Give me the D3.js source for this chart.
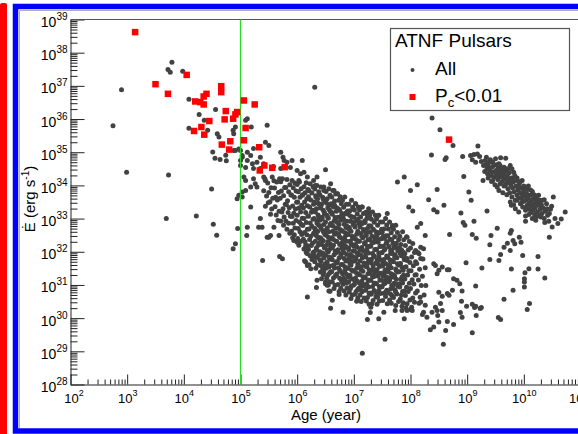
<!DOCTYPE html>
<html lang="en">
<head>
<meta charset="UTF-8">
<title>ATNF Pulsars - spin-down power vs age</title>
<style>
  body { margin: 0; background: #fff; }
  svg { display: block; font-family: "Liberation Sans", Arial, Helvetica, sans-serif; }
</style>
</head>
<body>
<svg id="chart" width="578" height="434"></svg>
<script src="https://cdnjs.cloudflare.com/ajax/libs/d3/7.8.5/d3.min.js"></script>
<script>
// all values are log10(age / year) and log10(Edot / erg s^-1)
const xDecades = [2, 3, 4, 5, 6, 7, 8, 9, 10, 11];
const yDecades = [28, 29, 30, 31, 32, 33, 34, 35, 36, 37, 38, 39];
const ageCut = 5; // green line at 1e5 yr

// young / sparse pulsars left of and above the main cloud
const youngScatter = [
  [2.90,36.88],[2.75,35.80],[2.99,34.40],[3.79,37.71],[3.72,37.49],[3.76,37.41],[3.98,37.44],
  [4.09,36.60],[4.27,36.14],[4.09,35.72],[3.73,34.31],[3.69,33.00],[4.22,33.08],[4.49,33.89],
  [4.52,32.83],[4.58,32.50],[4.87,32.09],[4.51,35.01],[4.55,34.82],[4.64,34.78],[4.75,34.74],
  [4.74,34.91],[4.88,35.05],[4.56,36.29],[4.36,35.96],[4.42,35.66],[4.59,35.56],[4.62,35.46],
  [4.87,35.66],[4.91,35.76],[5.12,36.01],[5.09,35.96],[5.19,35.76],[5.47,35.81],[5.44,35.30],
  [5.50,35.20],[5.00,35.05],[5.12,35.00],[5.18,34.90],[5.23,35.11],[5.03,34.85],[5.12,34.75],
  [5.21,34.65],[5.29,34.70],[5.35,34.85],[5.71,35.00],[5.75,34.85],[5.91,34.75],[5.00,34.60],
  [5.09,34.54],[5.23,34.51],[5.35,34.51],[5.58,34.57],[5.71,34.51],[5.88,34.54],[5.77,34.75],
  [5.82,34.70],[6.09,34.75],[6.50,34.47],[6.00,34.45],[6.06,34.35],[6.12,34.40],[5.06,34.25],
  [5.09,34.15],[5.23,34.20],[5.26,34.05],[5.18,33.95],[5.29,33.95],[5.09,33.85],[5.03,33.80],
  [4.97,33.70],[5.03,33.65],[5.41,34.25],[5.44,34.15],[6.03,34.15],[6.18,34.25],[6.29,34.15],
  [6.35,34.25],[6.32,34.00],[6.47,33.95],[6.59,34.05],[6.65,33.85],[6.71,33.75],[4.94,33.60],
  [4.95,32.70],[4.91,32.24],[5.12,32.74],[5.11,32.49],[5.18,33.35],[5.35,33.00],[5.32,32.74],
  [5.38,32.74],[5.59,32.74],[5.53,32.49],[5.47,32.44],[5.39,31.74],[5.69,31.86],[5.74,31.79],
  [5.94,32.34],[6.00,32.29],[6.15,31.69],[6.18,31.59],[4.88,35.56],[4.91,35.05],[4.97,35.10],
  [6.31,36.96],[5.50,32.44],[5.68,32.49],[6.15,32.19],[6.13,32.09],[6.18,31.94],[6.13,31.73],
  [6.21,31.61],[6.24,31.49],[6.29,31.89],[6.32,31.84],[6.35,31.14],[6.34,30.92],[6.50,31.04],
  [6.18,30.64],[6.58,30.81],[6.47,31.39],[6.41,31.59],[6.56,31.54],[7.03,33.45],[7.15,33.35],
  [7.24,33.10],[7.26,33.20],[7.41,33.05],[7.59,33.15],[7.68,32.74],[7.77,34.10],[7.89,34.25],
  [7.97,33.35],[5.00,34.75],[5.03,34.90],[5.41,34.65]
];

// dense cloud of normal pulsars, read strip by strip (ages with their Edot values)
const cloudStrips = [
  { age: [5.43,5.48,5.41,5.46,5.49,5.44],
    edot: [34.20,34.07,33.84,33.68,33.48,33.37] },
  { age: [5.56,5.59,5.54,5.50,5.57,5.52,5.55,5.53],
    edot: [34.25,34.14,33.93,33.79,33.61,33.51,33.29,33.13] },
  { age: [5.69,5.64,5.60,5.67,5.62,5.65,5.61,5.68,5.63,5.66],
    edot: [34.20,34.10,33.92,33.79,33.64,33.56,33.36,33.22,33.11,32.94] },
  { age: [5.74,5.71,5.78,5.72,5.76,5.70,5.79,5.75,5.73,5.77,5.71,5.76],
    edot: [34.20,34.11,33.94,33.83,33.69,33.61,33.43,33.30,33.20,33.05,32.93,32.80] },
  { age: [5.82,5.87,5.80,5.85,5.89,5.83,5.81,5.86,5.84,5.88,5.80,5.85,5.82,5.87],
    edot: [34.18,34.02,33.94,33.81,33.71,33.54,33.42,33.33,33.18,33.07,32.93,32.86,32.68,32.56] },
  { age: [5.91,5.96,5.93,5.98,5.90,5.95,5.99,5.92,5.97,5.94,5.91,5.98,5.93,5.96,5.90,5.95,5.92],
    edot: [34.15,34.07,33.93,33.83,33.71,33.64,33.49,33.38,33.29,33.16,33.06,32.94,32.86,32.72,32.62,32.51,32.42] },
  { age: [6.04,6.00,6.07,6.02,6.09,6.05,6.01,6.08,6.03,6.06,6.00,6.09,6.04,6.07,6.02,6.05,6.08,6.01,6.06,6.03],
    edot: [34.10,34.03,33.90,33.81,33.70,33.64,33.50,33.40,33.32,33.20,33.10,33.01,32.90,32.83,32.70,32.60,32.52,32.40,32.31,32.20] },
  { age: [6.16,6.12,6.19,6.14,6.10,6.17,6.13,6.18,6.11,6.15,6.19,6.12,6.16,6.10,6.18,6.13,6.17,6.11,6.14,6.19,6.12,6.16],
    edot: [34.08,33.96,33.88,33.78,33.72,33.59,33.50,33.39,33.32,33.18,33.08,33.00,32.88,32.79,32.68,32.58,32.51,32.38,32.30,32.18,32.08,31.98] },
  { age: [6.23,6.28,6.21,6.26,6.20,6.24,6.29,6.22,6.27,6.25,6.20,6.28,6.23,6.26,6.21,6.29,6.24,6.22,6.27,6.25,6.20,6.28,6.23,6.26],
    edot: [34.05,33.96,33.84,33.77,33.66,33.56,33.43,33.35,33.25,33.19,33.07,32.98,32.87,32.77,32.69,32.56,32.47,32.37,32.26,32.19,32.07,31.97,31.88,31.77] },
  { age: [6.35,6.31,6.38,6.33,6.36,6.30,6.39,6.34,6.32,6.37,6.30,6.35,6.38,6.31,6.36,6.33,6.39,6.32,6.37,6.34,6.30,6.38,6.35,6.31,6.36,6.33],
    edot: [34.00,33.89,33.81,33.69,33.60,33.50,33.43,33.30,33.20,33.11,33.00,32.92,32.80,32.70,32.61,32.50,32.40,32.32,32.20,32.11,32.00,31.90,31.83,31.70,31.60,31.50] },
  { age: [6.42,6.47,6.40,6.45,6.49,6.43,6.41,6.46,6.48,6.44,6.40,6.47,6.42,6.45,6.49,6.41,6.46,6.43,6.48,6.40,6.44,6.47,6.42,6.49,6.45,6.41,6.46,6.43],
    edot: [33.95,33.85,33.72,33.64,33.53,33.44,33.32,33.25,33.15,33.04,32.95,32.82,32.72,32.64,32.52,32.42,32.33,32.22,32.12,32.00,31.92,31.81,31.71,31.62,31.49,31.39,31.31,31.19] },
  { age: [6.56,6.51,6.58,6.53,6.50,6.57,6.54,6.59,6.52,6.55,6.50,6.58,6.53,6.56,6.51,6.59,6.54,6.52,6.57,6.55,6.50,6.58,6.53,6.56,6.51,6.59,6.54,6.52,6.57,6.55],
    edot: [33.90,33.82,33.70,33.60,33.51,33.40,33.33,33.20,33.10,33.01,32.90,32.80,32.72,32.60,32.50,32.39,32.30,32.20,32.07,32.00,31.90,31.79,31.70,31.58,31.50,31.40,31.29,31.20,31.10,31.00] },
  { age: [6.63,6.68,6.61,6.66,6.60,6.64,6.69,6.62,6.67,6.65,6.60,6.68,6.63,6.66,6.61,6.69,6.64,6.62,6.67,6.65,6.60,6.68,6.63,6.66,6.61,6.69,6.64,6.62,6.67,6.65],
    edot: [33.85,33.74,33.65,33.53,33.45,33.35,33.22,33.13,33.03,32.92,32.84,32.72,32.62,32.53,32.42,32.32,32.20,32.12,32.02,31.91,31.82,31.69,31.59,31.51,31.40,31.30,31.21,31.09,30.99,30.89] },
  { age: [6.71,6.76,6.73,6.78,6.70,6.75,6.79,6.72,6.77,6.74,6.71,6.78,6.73,6.76,6.70,6.75,6.79,6.72,6.77,6.74,6.71,6.78,6.73,6.76,6.70,6.75,6.79,6.72,6.77,6.74],
    edot: [33.75,33.66,33.55,33.45,33.33,33.25,33.15,33.04,32.95,32.82,32.72,32.64,32.53,32.43,32.31,32.22,32.12,32.01,31.93,31.81,31.71,31.62,31.51,31.41,31.33,31.20,31.10,31.01,30.90,30.80] },
  { age: [6.84,6.80,6.87,6.82,6.89,6.85,6.81,6.88,6.83,6.86,6.80,6.89,6.84,6.87,6.82,6.85,6.81,6.88,6.83,6.86,6.80,6.89,6.84,6.87,6.82,6.85,6.81,6.88,6.83,6.86],
    edot: [33.65,33.55,33.43,33.34,33.23,33.15,33.05,32.92,32.83,32.73,32.62,32.52,32.44,32.32,32.22,32.13,32.02,31.92,31.80,31.72,31.62,31.51,31.42,31.32,31.20,31.12,31.02,30.91,30.82,30.70] },
  { age: [6.96,6.91,6.98,6.93,6.90,6.97,6.94,6.99,6.92,6.95,6.90,6.98,6.93,6.96,6.91,6.99,6.94,6.92,6.97,6.95,6.90,6.98,6.93,6.96,6.91,6.99,6.94,6.92,6.97,6.95],
    edot: [33.55,33.43,33.34,33.24,33.13,33.05,32.92,32.82,32.73,32.62,32.52,32.40,32.32,32.22,32.11,32.02,31.92,31.80,31.71,31.60,31.50,31.42,31.29,31.19,31.10,30.99,30.89,30.79,30.70,30.59] },
  { age: [7.03,7.08,7.01,7.06,7.00,7.04,7.09,7.02,7.07,7.05,7.00,7.08,7.03,7.06,7.01,7.09,7.04,7.02,7.07,7.05,7.00,7.08,7.03,7.06,7.01,7.09,7.04,7.02,7.07,7.05],
    edot: [33.45,33.35,33.26,33.14,33.04,32.93,32.85,32.75,32.62,32.53,32.43,32.32,32.22,32.14,32.02,31.92,31.83,31.72,31.62,31.50,31.42,31.32,31.21,31.12,31.02,30.90,30.80,30.72,30.61,30.51] },
  { age: [7.14,7.10,7.17,7.12,7.19,7.15,7.11,7.18,7.13,7.16,7.10,7.19,7.14,7.17,7.12,7.15,7.11,7.18,7.13,7.16,7.10,7.19,7.14,7.17,7.12,7.15,7.11,7.18,7.13],
    edot: [33.35,33.26,33.15,33.05,32.93,32.85,32.75,32.64,32.55,32.42,32.32,32.24,32.13,32.03,31.91,31.82,31.72,31.61,31.53,31.41,31.31,31.22,31.11,31.01,30.93,30.80,30.70,30.61,30.50] },
  { age: [7.26,7.21,7.28,7.23,7.20,7.27,7.24,7.29,7.22,7.25,7.20,7.28,7.23,7.26,7.21,7.29,7.24,7.22,7.27,7.25,7.20,7.28,7.23,7.26,7.21,7.29,7.24,7.22,7.27],
    edot: [33.30,33.19,33.09,33.00,32.88,32.78,32.70,32.59,32.49,32.36,32.27,32.17,32.06,31.96,31.84,31.76,31.66,31.55,31.46,31.34,31.24,31.14,31.03,30.94,30.84,30.72,30.62,30.52,30.42] },
  { age: [7.33,7.38,7.31,7.36,7.30,7.34,7.39,7.32,7.37,7.35,7.30,7.38,7.33,7.36,7.31,7.39,7.34,7.32,7.37,7.35,7.30,7.38,7.33,7.36,7.31,7.39,7.34,7.32],
    edot: [33.20,33.10,32.98,32.89,32.78,32.68,32.60,32.47,32.37,32.28,32.17,32.07,31.95,31.87,31.77,31.66,31.57,31.45,31.35,31.25,31.14,31.05,30.95,30.83,30.73,30.64,30.53,30.43] },
  { age: [7.44,7.40,7.47,7.42,7.49,7.45,7.41,7.48,7.43,7.46,7.40,7.49,7.44,7.47,7.42,7.45,7.41,7.48,7.43,7.46,7.40,7.49,7.44,7.47,7.42,7.45,7.41],
    edot: [33.10,32.99,32.90,32.80,32.68,32.58,32.50,32.39,32.29,32.16,32.07,31.97,31.86,31.76,31.64,31.56,31.46,31.35,31.26,31.14,31.04,30.94,30.83,30.74,30.64,30.52,30.42] },
  { age: [7.56,7.51,7.58,7.53,7.50,7.57,7.54,7.59,7.52,7.55,7.50,7.58,7.53,7.56,7.51,7.59,7.54,7.52,7.57,7.55,7.50,7.58,7.53,7.56,7.51,7.59],
    edot: [33.00,32.90,32.81,32.69,32.59,32.48,32.40,32.30,32.17,32.08,31.98,31.87,31.77,31.65,31.57,31.47,31.36,31.27,31.15,31.05,30.95,30.84,30.75,30.65,30.53,30.43] },
  { age: [7.63,7.68,7.61,7.66,7.60,7.64,7.69,7.62,7.67,7.65,7.60,7.68,7.63,7.66,7.61,7.69,7.64,7.62,7.67,7.65,7.60,7.68,7.63,7.66],
    edot: [32.90,32.79,32.69,32.57,32.48,32.38,32.25,32.15,32.04,31.95,31.83,31.73,31.62,31.52,31.40,31.31,31.21,31.10,30.98,30.88,30.77,30.67,30.55,30.45] },
  { age: [7.74,7.70,7.77,7.72,7.79,7.75,7.71,7.78,7.73,7.76,7.70,7.79,7.74,7.77,7.72,7.75,7.71,7.78,7.73,7.76,7.70,7.79,7.74],
    edot: [32.80,32.68,32.58,32.45,32.36,32.25,32.13,32.03,31.91,31.82,31.70,31.60,31.48,31.39,31.27,31.17,31.05,30.96,30.84,30.73,30.62,30.50,30.38] },
  { age: [7.86,7.81,7.88,7.83,7.80,7.87,7.84,7.89,7.82,7.85,7.80,7.88,7.83,7.86,7.81,7.89,7.84,7.82,7.87,7.85],
    edot: [32.60,32.47,32.36,32.22,32.12,31.99,31.88,31.76,31.64,31.53,31.40,31.30,31.17,31.06,30.94,30.82,30.70,30.58,30.46,30.36] },
  { age: [7.93,7.98,7.91,7.96,7.90,7.94,7.99,7.92,7.97,7.95,7.90,7.98,7.93,7.96,7.91,7.99,7.94,7.92],
    edot: [32.45,32.31,32.19,32.05,31.94,31.80,31.68,31.55,31.43,31.30,31.18,31.05,30.93,30.80,30.68,30.55,30.43,30.31] },
  { age: [8.04,8.00,8.07,8.02,8.09,8.05,8.01,8.08,8.03,8.06,8.00,8.09,8.04,8.07,8.02],
    edot: [32.25,32.11,31.98,31.84,31.70,31.58,31.43,31.30,31.16,31.03,30.89,30.76,30.61,30.48,30.33] },
  { age: [8.13,8.18,8.11,8.16,8.10,8.14,8.19,8.12,8.17,8.15],
    edot: [31.98,31.80,31.65,31.47,31.31,31.15,30.98,30.82,30.63,30.45] },
  { age: [8.22,8.26,8.21,8.27,8.24],
    edot: [31.78,31.52,31.26,30.98,30.70] }
];

// extra pulsars in the crowded core of the cloud
const cloudCore = [
  { age: [6.33,6.37,6.31,6.38,6.35,6.32,6.36,6.39,6.34,6.30],
    edot: [33.65,33.46,33.25,33.05,32.86,32.66,32.45,32.26,32.05,31.84] },
  { age: [6.46,6.42,6.48,6.44,6.41,6.47,6.43,6.49,6.45,6.40,6.46],
    edot: [33.58,33.38,33.19,32.99,32.78,32.58,32.38,32.17,31.96,31.76,31.55] },
  { age: [6.52,6.57,6.54,6.59,6.51,6.55,6.58,6.53,6.56,6.50,6.57],
    edot: [33.46,33.26,33.05,32.85,32.65,32.44,32.24,32.04,31.84,31.64,31.35] },
  { age: [6.66,6.61,6.67,6.63,6.69,6.64,6.60,6.68,6.62,6.65,6.67],
    edot: [33.40,33.18,32.98,32.78,32.57,32.37,32.16,31.96,31.76,31.55,31.26] },
  { age: [6.73,6.78,6.71,6.76,6.74,6.79,6.72,6.77,6.70,6.75,6.78],
    edot: [33.29,33.08,32.88,32.67,32.47,32.27,32.06,31.86,31.66,31.45,31.15] },
  { age: [6.87,6.82,6.88,6.85,6.81,6.86,6.83,6.89,6.84,6.80,6.87],
    edot: [33.18,32.97,32.77,32.57,32.36,32.16,31.96,31.75,31.55,31.34,31.06] },
  { age: [6.94,6.99,6.92,6.97,6.95,6.91,6.98,6.93,6.96,6.90,6.95],
    edot: [33.08,32.88,32.67,32.47,32.26,32.06,31.86,31.65,31.45,31.24,30.96] },
  { age: [7.07,7.02,7.08,7.04,7.00,7.06,7.03,7.09,7.05,7.01,7.07],
    edot: [32.98,32.78,32.57,32.37,32.17,31.96,31.76,31.56,31.35,31.15,30.86] },
  { age: [7.12,7.17,7.14,7.19,7.11,7.15,7.18,7.13,7.16,7.10,7.14],
    edot: [32.88,32.67,32.47,32.27,32.06,31.86,31.66,31.45,31.25,31.05,30.80] },
  { age: [7.27,7.22,7.28,7.24,7.21,7.26,7.23,7.29,7.25,7.20,7.27],
    edot: [32.78,32.57,32.37,32.17,31.96,31.76,31.56,31.35,31.15,30.95,30.75] },
  { age: [7.34,7.39,7.32,7.37,7.35,7.31,7.38,7.33,7.36,7.30],
    edot: [32.68,32.47,32.27,32.06,31.86,31.66,31.45,31.25,31.05,30.76] },
  { age: [7.47,7.42,7.48,7.44,7.41,7.46,7.43,7.49,7.45,7.40],
    edot: [32.58,32.37,32.17,31.96,31.76,31.56,31.35,31.15,30.95,30.74] },
  { age: [7.52,7.57,7.54,7.59,7.51,7.55,7.58,7.53,7.56],
    edot: [32.46,32.26,32.05,31.85,31.65,31.44,31.24,31.04,30.78] },
  { age: [7.67,7.62,7.68,7.64,7.61,7.66,7.63,7.69,7.65],
    edot: [32.36,32.16,31.95,31.75,31.55,31.34,31.14,30.94,30.72] },
  { age: [7.73,7.78,7.72,7.77,7.75,7.71,7.76,7.74],
    edot: [32.25,32.04,31.84,31.64,31.43,31.23,31.03,30.78] },
  { age: [7.84,7.88,7.82,7.87,7.85,7.81,7.86],
    edot: [32.06,31.85,31.65,31.44,31.24,31.04,30.80] }
];

// old pulsars right of and below the cloud
const oldScatter = [
  [8.38,36.03],[8.52,35.68],[8.75,35.20],[8.37,34.92],[8.63,34.83],[8.61,34.78],[8.92,34.87],
  [8.12,34.02],[8.00,33.85],[8.47,33.88],[8.32,33.57],[8.59,33.40],[8.41,33.27],[8.47,33.20],
  [8.04,33.23],[8.94,34.27],[9.03,33.80],[9.07,33.55],[8.89,33.17],[8.93,32.88],[8.96,32.80],
  [9.12,32.92],[9.35,33.23],[9.53,32.71],[8.69,32.52],[9.09,32.52],[9.16,32.41],[9.42,32.49],
  [9.78,32.64],[9.76,32.56],[9.81,32.34],[9.92,32.44],[9.95,32.29],[9.84,32.24],[9.71,32.26],
  [9.65,32.14],[9.40,32.21],[10.45,32.44],[10.66,32.99],[10.73,33.20],[10.52,33.65],[10.49,33.37],
  [10.36,33.57],[10.21,33.05],[10.03,32.92],[8.18,32.85],[8.12,32.74],[7.94,32.44],[8.26,32.49],
  [9.76,32.04],[9.59,31.92],[9.56,31.74],[9.40,31.77],[9.98,31.89],[10.25,31.86],[9.78,31.48],
  [10.09,31.49],[10.25,31.48],[10.37,31.21],[10.02,31.37],[10.01,31.19],[10.01,31.09],[10.01,30.94],
  [9.81,30.84],[9.65,30.57],[10.10,30.44],[10.06,30.26],[9.55,30.02],[9.59,29.96],[9.26,31.51],
  [8.98,31.67],[9.15,30.97],[9.09,30.42],[9.15,30.36],[9.23,30.29],[9.16,30.08],[9.09,29.56],
  [8.58,29.21],[8.62,29.63],[8.35,29.65],[8.50,29.88],[8.65,29.90],[8.76,29.81],[8.90,30.51],
  [8.99,30.36],[8.91,30.82],[8.88,30.17],[8.91,30.03],[7.89,29.98],[8.41,29.73],[8.68,31.46],
  [8.76,31.19],[8.82,31.14],[8.87,31.04],[8.74,30.84],[8.65,30.74],[8.56,30.66],[8.53,30.44],
  [8.47,30.23],[8.38,30.18],[8.29,30.03],[8.23,30.18],[8.21,30.11],[7.85,30.23],[7.94,30.23],
  [8.03,30.23],[8.44,31.59],[8.50,31.44],[8.47,31.34],[8.56,31.54],[8.18,32.14],[8.23,32.09],
  [8.09,32.04],[8.15,31.94],[7.55,29.36],[7.15,28.94],[7.24,29.96],[7.44,29.98],[7.29,30.17],
  [7.30,30.33],[6.81,30.18],[6.59,30.30],[6.62,30.54],[6.74,30.71],[6.56,30.82],[6.50,31.09],
  [6.53,30.99],[7.53,30.18],[7.73,30.23],[8.00,30.26],[8.41,31.64],[8.65,31.46],[8.68,30.69],
  [8.50,30.78],[9.13,30.32],[9.25,30.32],[8.48,30.08],[8.56,30.23],[8.44,30.33],[8.26,30.39],
  [8.18,30.49],[7.65,32.04],[7.74,32.14],[7.82,31.94],[7.94,31.74]
];

// recycled pulsar group near 1e9-1e10 yr
const mspCluster = [
  [9.06,34.90],[9.12,34.93],[9.18,34.95],[9.22,34.87],[9.09,34.77],[9.15,34.70],[9.25,34.72],
  [9.32,34.75],[9.41,34.77],[9.50,34.80],[9.59,34.83],[9.68,34.82],[9.29,34.60],[9.38,34.55],
  [9.47,34.60],[9.56,34.65],[9.65,34.55],[9.76,34.60],[9.79,34.50],[9.19,35.19],
  [9.31,34.42],[9.35,34.50],[9.36,34.35],[9.40,34.44],[9.42,34.30],[9.44,34.55],[9.46,34.40],
  [9.48,34.25],[9.33,34.62],[9.38,34.68],[9.51,34.45],[9.52,34.32],[9.54,34.18],[9.55,34.52],
  [9.57,34.38],[9.58,34.05],[9.60,34.25],[9.61,34.45],[9.62,34.12],[9.64,34.33],[9.65,33.98],
  [9.66,34.20],[9.68,34.42],[9.69,34.06],[9.53,33.95],[9.58,34.60],[9.71,34.28],[9.72,33.90],
  [9.73,34.14],[9.74,34.38],[9.75,33.78],[9.77,34.02],[9.78,34.22],[9.79,33.65],[9.80,33.92],
  [9.81,34.10],[9.83,33.80],[9.84,34.30],[9.85,33.55],[9.86,33.98],[9.87,34.15],[9.88,33.70],
  [9.89,33.86],[9.76,33.50],[9.82,33.42],[9.91,33.62],[9.92,34.05],[9.93,33.78],[9.94,33.45],
  [9.95,33.92],[9.96,33.62],[9.97,34.15],[9.98,33.35],[9.99,33.80],[10.00,33.52],[10.01,33.68],
  [10.02,33.90],[10.03,33.25],[10.04,33.55],[10.05,33.75],[10.06,33.40],[10.07,33.62],[10.08,33.98],
  [10.09,33.30],[10.10,33.48],[10.11,33.70],[10.12,33.18],[10.13,33.55],[10.14,33.38],[10.15,33.82],
  [10.16,33.25],[10.17,33.60],[10.18,33.45],[10.19,33.12],[10.20,33.32],[10.22,33.50],[10.23,33.68],
  [10.24,33.20],[10.25,33.40],[10.27,33.08],[10.28,33.55],[10.29,33.28],[10.31,33.42],[10.32,33.15],
  [10.34,33.32],[10.36,33.00],[10.38,33.22],[10.40,33.45],[10.42,33.10],[10.44,32.92],[10.47,33.28],
  [10.55,33.00],[10.60,32.85],[10.50,32.75],[10.23,33.55],[10.29,33.45],
  [9.28,34.15],[9.34,34.85],[9.37,34.22],[9.43,34.12],[9.45,34.70],[9.49,34.02],[9.52,34.62],
  [9.56,33.85],[9.59,34.48],[9.63,33.78],[9.66,34.52],[9.70,33.72],[9.72,34.50],[9.75,34.08],
  [9.78,33.40],[9.82,34.40],[9.85,33.30],[9.88,34.22],[9.91,33.20],[9.94,34.12],[9.97,33.50],
  [10.00,33.98],[10.03,33.08],[10.06,33.88],[10.09,33.12],[10.12,33.86],[10.15,33.00],[10.18,33.72],
  [10.21,32.95],[10.26,33.70],[10.30,33.05],[10.33,33.55],[10.37,32.88],[10.41,33.30],[10.45,33.15],
  [9.62,34.32],[9.70,34.18],[9.80,34.20],[9.90,33.95],[9.98,33.70],[10.05,33.35],[10.12,33.45],
  [9.45,34.15],[9.55,34.30],[9.67,34.00],[9.88,33.55]
];

// pulsars with Pc < 0.01
const pcPulsars = [
  [3.14,38.62],[3.50,37.05],[3.72,36.76],[4.05,37.33],[4.20,36.53],[4.29,36.51],[4.35,36.68],
  [4.40,36.76],[4.35,36.44],[4.66,36.99],[4.66,36.81],[4.74,36.24],[4.72,35.99],[4.87,36.01],
  [4.94,36.21],[4.91,36.14],[5.06,36.56],[5.25,36.44],[5.09,35.73],[4.45,35.94],[4.31,35.76],
  [4.18,35.64],[4.36,35.53],[4.82,35.33],[5.06,35.36],[4.67,35.23],[4.80,35.08],[5.33,35.15],
  [5.42,34.60],[5.56,34.53],[5.78,34.55],[5.34,34.45],[8.68,35.38]
];

const fromStrips = strips => strips.flatMap(s => s.age.map((a, i) => [a, s.edot[i]]))
  .filter(d => d[1] !== undefined);
const allPulsars = youngScatter.concat(fromStrips(cloudStrips), fromStrips(cloudCore),
  oldScatter, mspCluster);

const svg = d3.select('#chart');

// outer decorations
svg.append('rect').attr('x', 0).attr('y', 3).attr('width', 7).attr('height', 440)
  .attr('rx', 2).attr('fill', '#ff0000');
svg.append('rect').attr('x', 15.5).attr('y', 6.5).attr('width', 620).attr('height', 424.5)
  .attr('fill', 'none').attr('stroke', '#0000ff').attr('stroke-width', 5.5);
svg.append('path').attr('d', 'M19.5,428V10.5H578').attr('fill', 'none')
  .attr('stroke', '#b0b0b0').attr('stroke-width', 1);

const x = d3.scaleLog().domain([1e2, 1e11]).range([70.5, 580.5]);
const y = d3.scaleLog().domain([1e28, 1e39]).range([384.5, 19.5]);

const minorOf = decs => decs.slice(0, -1).flatMap(d => [2, 3, 4, 5, 6, 7, 8, 9].map(k => k * 10 ** d));

function powerLabels(g, fs, efs, yOff) {
  g.attr('font-family', null);
  g.selectAll('.tick text').each(function (d) {
    const t = d3.select(this).text(null).attr('dy', null).attr('y', yOff).attr('fill', '#000');
    t.append('tspan').attr('font-size', fs).text('10');
    t.append('tspan').attr('font-size', efs).attr('dy', -7).text(Math.round(Math.log10(d)));
  });
}

// y axis
const gyMinor = svg.append('g').attr('transform', 'translate(70.5,0)').attr('color', '#222')
  .call(d3.axisLeft(y).tickValues(minorOf(yDecades)).tickSize(-7).tickFormat(''));
gyMinor.select('.domain').remove();
const gy = svg.append('g').attr('transform', 'translate(70.5,0)').attr('color', '#222')
  .call(d3.axisLeft(y).tickValues(yDecades.map(d => 10 ** d)).tickSizeInner(-14)
    .tickSizeOuter(0).tickPadding(3));
gy.selectAll('.tick text').attr('x', -3);
powerLabels(gy, 14, 10, 7);

// x axis
const gxMinor = svg.append('g').attr('transform', 'translate(0,384.5)').attr('color', '#222')
  .call(d3.axisBottom(x).tickValues(minorOf(xDecades)).tickSize(-5).tickFormat(''));
gxMinor.select('.domain').remove();
const gx = svg.append('g').attr('transform', 'translate(0,384.5)').attr('color', '#222')
  .call(d3.axisBottom(x).tickValues(xDecades.map(d => 10 ** d)).tickSizeInner(-10)
    .tickSizeOuter(0));
powerLabels(gx, 13, 9, 18.5);
// first label sits a little right of its tick, as in the reference
gx.selectAll('.tick text').filter(d => d === 1e2).attr('x', 3);

// top frame line
svg.append('line').attr('x1', 70.5).attr('x2', 580.5).attr('y1', 19.5).attr('y2', 19.5)
  .attr('stroke', '#555');

// axis titles
svg.append('text').attr('x', 326).attr('y', 420).attr('text-anchor', 'middle')
  .attr('font-size', 15).text('Age (year)');
const yTitle = svg.append('text').attr('transform', 'translate(35,199) rotate(-90)')
  .attr('text-anchor', 'middle').attr('font-size', 15);
yTitle.append('tspan').text('Ė (erg s');
yTitle.append('tspan').attr('font-size', 10).attr('dy', -6).text('-1');
yTitle.append('tspan').attr('dy', 6).text(')');

// points
svg.append('g').selectAll('circle').data(allPulsars).join('circle')
  .attr('cx', d => x(10 ** d[0])).attr('cy', d => y(10 ** d[1]))
  .attr('r', 2.5).attr('fill', '#424242');

svg.append('line').attr('x1', x(10 ** ageCut)).attr('x2', x(10 ** ageCut))
  .attr('y1', 19.5).attr('y2', 384.5).attr('stroke', '#22dd22').attr('stroke-width', 1.2);

const sq = 6.5;
svg.append('g').selectAll('rect').data(pcPulsars).join('rect')
  .attr('x', d => x(10 ** d[0]) - sq / 2).attr('y', d => y(10 ** d[1]) - sq / 2)
  .attr('width', sq).attr('height', sq).attr('fill', '#ff0000');

// legend
const lg = svg.append('g');
lg.append('rect').attr('x', 390.5).attr('y', 28.5).attr('width', 179).attr('height', 82)
  .attr('fill', '#fff').attr('stroke', '#555').attr('stroke-width', 1.2);
lg.append('text').attr('x', 395).attr('y', 47).attr('font-size', 19).text('ATNF Pulsars');
lg.append('circle').attr('cx', 412.5).attr('cy', 70).attr('r', 2).attr('fill', '#424242');
lg.append('text').attr('x', 435).attr('y', 75).attr('font-size', 19).text('All');
lg.append('rect').attr('x', 409.5).attr('y', 94).attr('width', 6).attr('height', 6).attr('fill', '#ff0000');
const pcText = lg.append('text').attr('x', 435).attr('y', 101.5).attr('font-size', 19);
pcText.append('tspan').text('P');
pcText.append('tspan').attr('font-size', 13).attr('dy', 5).text('c');
pcText.append('tspan').attr('dy', -5).text('<0.01');
</script>
</body>
</html>
